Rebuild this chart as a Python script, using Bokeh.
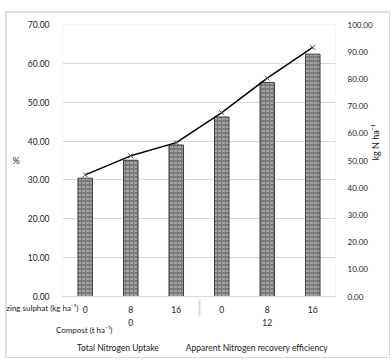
import math
from bokeh.plotting import figure
from bokeh.layouts import column
from bokeh.models import (FactorRange, Range1d, LinearAxis, Legend, LegendItem,
                          NumeralTickFormatter, FixedTicker, Label)
from bokeh.embed import file_html
from bokeh.resources import INLINE

# Treatments: compost rate (t/ha) and zinc sulphate rate (kg/ha)
compost = ["0", "0", "0", "12", "12", "12"]
zinc = ["0", "8", "16", "0", "8", "16"]

# Total nitrogen uptake (kg N/ha, right axis)
total_n_uptake = [43.5, 50.1, 55.7, 66.0, 78.7, 89.1]
# Apparent nitrogen recovery efficiency (%, left axis)
recovery_eff = [31.3, 36.2, 39.6, 47.3, 56.2, 64.1]

left_ticks = [0, 10, 20, 30, 40, 50, 60, 70]
right_ticks = [0, 10, 20, 30, 40, 50, 60, 70, 80, 90, 100]

FONT = "Lato"
TXT = "#1a1a1a"
GRID = "#d9d9d9"

BAR_STYLE = dict(fill_color="#7a7a7a", line_color="#3f3f3f", line_width=1,
                 hatch_pattern="horizontal_dash", hatch_color="#cfcfcf",
                 hatch_scale=4, hatch_weight=1)
LINE_STYLE = dict(line_color="black", line_width=1.5)
MARK_STYLE = dict(marker="x", size=7, line_color="#555555", line_width=1)

factors = list(zip(compost, zinc))
x_range = FactorRange(factors=factors, factor_padding=0, group_padding=0,
                      subgroup_padding=0, range_padding=0)

p = figure(
    x_range=x_range, y_range=Range1d(0, 70),
    width=None, height=None, frame_width=273, frame_height=272,
    output_backend="svg", toolbar_location=None,
    min_border_left=56, min_border_right=51, min_border_top=12, min_border_bottom=61,
)
p.margin = 1
p.extra_y_ranges = {"kg": Range1d(0, 100)}
p.outline_line_color = None
p.background_fill_color = "white"
p.border_fill_color = "white"

bars = p.vbar(x=factors, top=total_n_uptake, width=0.32, y_range_name="kg", **BAR_STYLE)
p.line(x=factors, y=recovery_eff, **LINE_STYLE)
p.scatter(x=factors, y=recovery_eff, **MARK_STYLE)

# left axis (%)
ya = p.yaxis[0]
ya.ticker = FixedTicker(ticks=left_ticks)
ya.formatter = NumeralTickFormatter(format="0.00")
ya.axis_label = "%"
ya.axis_label_orientation = "horizontal"
ya.axis_label_standoff = 5
ya.axis_label_text_font = FONT
ya.axis_label_text_font_style = "normal"
ya.axis_label_text_font_size = "9px"
ya.axis_label_text_color = TXT
ya.axis_line_color = None
ya.major_tick_line_color = None
ya.minor_tick_line_color = None
ya.major_label_standoff = 7
ya.major_label_text_font = FONT
ya.major_label_text_font_size = "8.5px"
ya.major_label_text_color = TXT

# right axis (kg N/ha)
ra = LinearAxis(y_range_name="kg", ticker=FixedTicker(ticks=right_ticks),
                formatter=NumeralTickFormatter(format="0.00"))
ra.axis_label = "kg N ha⁻¹"
ra.axis_label_orientation = math.pi / 2
ra.axis_label_standoff = 0
ra.axis_label_text_font = FONT
ra.axis_label_text_font_style = "normal"
ra.axis_label_text_font_size = "9px"
ra.axis_label_text_color = TXT
ra.axis_line_color = None
ra.major_tick_line_color = None
ra.minor_tick_line_color = None
ra.major_label_standoff = 6
ra.major_label_text_font = FONT
ra.major_label_text_font_size = "8px"
ra.major_label_text_color = TXT
p.add_layout(ra, "right")

# grouped category axis
xa = p.xaxis[0]
xa.axis_line_color = GRID
xa.major_tick_line_color = None
xa.minor_tick_line_color = None
xa.major_label_text_font = FONT
xa.major_label_text_font_size = "8.5px"
xa.major_label_text_color = TXT
xa.major_label_standoff = 3
xa.group_text_font = FONT
xa.group_text_font_size = "8.5px"
xa.group_text_font_style = "normal"
xa.group_text_color = TXT
xa.separator_line_color = GRID

p.xgrid.visible = False
p.ygrid.ticker = FixedTicker(ticks=left_ticks)
p.ygrid.grid_line_color = GRID

# row captions for the two category levels
p.add_layout(Label(x=72, y=295, x_units="canvas", y_units="canvas",
                   text="zing sulphat (kg ha⁻¹)", text_align="right",
                   text_baseline="middle", text_font=FONT,
                   text_font_size="8px", text_color=TXT), "below")
p.add_layout(Label(x=106, y=317, x_units="canvas", y_units="canvas",
                   text="Compost (t ha⁻¹)", text_align="right",
                   text_baseline="middle", text_font=FONT,
                   text_font_size="8px", text_color=TXT), "below")

# legend strip: key-only renderers (no data) carrying the series styles
key = figure(x_range=Range1d(0, 1), y_range=Range1d(0, 1), width=300, height=14,
             output_backend="svg", toolbar_location=None,
             x_axis_location=None, y_axis_location=None, min_border=0)
key.outline_line_color = None
key.background_fill_alpha = 0
key.border_fill_alpha = 0
key.grid.visible = False
k_bars = key.vbar(x=[], top=[], width=0.32, **BAR_STYLE)
k_line = key.line(x=[], y=[], **LINE_STYLE)
k_mark = key.scatter(x=[], y=[], **MARK_STYLE)
legend = Legend(items=[
    LegendItem(label="Total Nitrogen Uptake", renderers=[k_bars]),
    LegendItem(label="Apparent Nitrogen recovery efficiency", renderers=[k_line, k_mark]),
], orientation="horizontal", location="left")
legend.border_line_color = None
legend.background_fill_alpha = 0
legend.label_text_font = FONT
legend.label_text_font_size = "8.5px"
legend.label_text_color = TXT
legend.glyph_width = 14
legend.glyph_height = 7
legend.spacing = 10
legend.padding = 0
legend.margin = 0
legend.label_standoff = 3
key.add_layout(legend)
key.styles = {"position": "absolute", "left": "60px", "top": "341px"}

# light chart border: grey backdrop showing as a 1px ring around the canvas
framed = column(p, margin=(11, 0, 0, 5), styles={"background-color": GRID})
page = column(framed, key, margin=0)

open("out.html", "w").write(file_html(page, INLINE))
